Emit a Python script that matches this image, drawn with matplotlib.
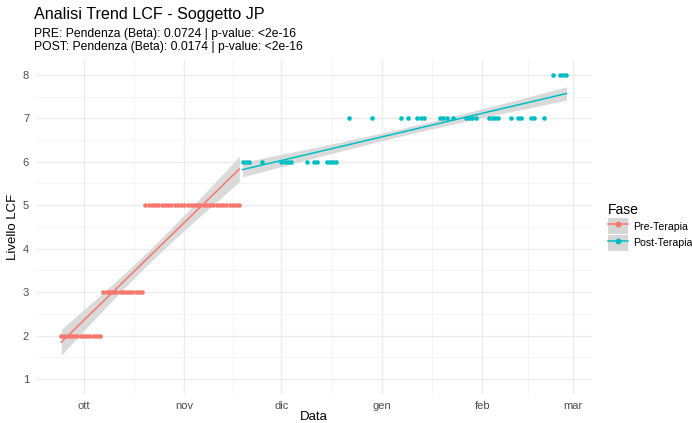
import numpy as np
import pandas as pd
import matplotlib.pyplot as plt
import matplotlib.dates as mdates
from matplotlib.patches import Patch
from matplotlib.lines import Line2D
from matplotlib.legend_handler import HandlerTuple

plt.rcParams["font.family"] = ["Liberation Sans", "DejaVu Sans"]

# pre-terapia: one observation per day, constant level over each run
pre_run_start = ["2024-09-24", "2024-10-07", "2024-10-20"]
pre_run_end = ["2024-10-06", "2024-10-19", "2024-11-18"]
pre_run_level = [2, 3, 5]

# post-terapia: sparse observations
post_dates = [
    "2024-11-19", "2024-11-20", "2024-11-21", "2024-11-25",
    "2024-12-01", "2024-12-02", "2024-12-03", "2024-12-04", "2024-12-09",
    "2024-12-11", "2024-12-12", "2024-12-15", "2024-12-16", "2024-12-17",
    "2024-12-18",
    "2024-12-22", "2024-12-29", "2025-01-07", "2025-01-09", "2025-01-12",
    "2025-01-13", "2025-01-14", "2025-01-19", "2025-01-20", "2025-01-21",
    "2025-01-23", "2025-01-27", "2025-01-28", "2025-01-29", "2025-01-30",
    "2025-02-03", "2025-02-04", "2025-02-05", "2025-02-06", "2025-02-10",
    "2025-02-12", "2025-02-13", "2025-02-16", "2025-02-17", "2025-02-20",
    "2025-02-23", "2025-02-25", "2025-02-26", "2025-02-27",
]
post_levels = [6] * 15 + [7] * 25 + [8] * 4

month_ticks = ["2024-10-01", "2024-11-01", "2024-12-01", "2025-01-01", "2025-02-01", "2025-03-01"]
month_labels = ["ott", "nov", "dic", "gen", "feb", "mar"]

pre_x, pre_y = [], []
for s, e, lv in zip(pre_run_start, pre_run_end, pre_run_level):
    days = pd.date_range(s, e, freq="D")
    pre_x.extend(days)
    pre_y.extend([lv] * len(days))
pre_x = mdates.date2num(pd.to_datetime(pre_x))
pre_y = np.array(pre_y, dtype=float)
post_x = mdates.date2num(pd.to_datetime(post_dates))
post_y = np.array(post_levels, dtype=float)

COL_PRE = "#F8766D"
COL_POST = "#00BFC4"
RIBBON = "#D6D6D6"


def lm_band(x, y, n=80, t=2.01):
    b, a = np.polyfit(x, y, 1)
    resid = y - (a + b * x)
    s = np.sqrt(np.sum(resid ** 2) / (len(x) - 2))
    xs = np.linspace(x.min(), x.max(), n)
    se = s * np.sqrt(1 / len(x) + (xs - x.mean()) ** 2 / np.sum((x - x.mean()) ** 2))
    fit = a + b * xs
    return xs, fit, fit - t * se, fit + t * se


fig = plt.figure(figsize=(6.92, 4.23), dpi=100)
ax = fig.add_axes([0.052, 0.068, 0.803, 0.791])

for x, y, c in [(pre_x, pre_y, COL_PRE), (post_x, post_y, COL_POST)]:
    ax.scatter(x, y, s=11, color=c, zorder=3, linewidths=0)
    xs, fit, lo, hi = lm_band(x, y)
    ax.fill_between(xs, lo, hi, color=RIBBON, alpha=0.9, linewidth=0, zorder=2)
    ax.plot(xs, fit, color=c, lw=1.1, zorder=4)

# ggplot-like limits: 5% expansion on x, y limits 1..8
allx = np.concatenate([pre_x, post_x])
span = allx.max() - allx.min()
ax.set_xlim(allx.min() - 0.05 * span, allx.max() + 0.05 * span)
ax.set_ylim(1 - 0.35, 8 + 0.35)

major = mdates.date2num(pd.to_datetime(month_ticks))
ax.set_xticks(major)
ax.set_xticklabels(month_labels)
ax.set_xticks((major[:-1] + major[1:]) / 2, minor=True)
ax.set_yticks(range(1, 9))
ax.set_yticks(np.arange(1.5, 8, 1), minor=True)

ax.grid(True, which="major", color="#EBEBEB", lw=0.9, zorder=0)
ax.grid(True, which="minor", color="#F3F3F3", lw=0.6, zorder=0)
ax.set_axisbelow(True)
for sp in ax.spines.values():
    sp.set_visible(False)
ax.tick_params(which="both", length=0, labelsize=8, labelcolor="#4D4D4D", pad=5)

ax.set_xlabel("Data", fontsize=9.5, labelpad=0)
ax.set_ylabel("Livello LCF", fontsize=9.5, labelpad=3)

fig.text(0.049, 0.955, "Analisi Trend LCF - Soggetto JP", fontsize=11.6, va="baseline")
fig.text(0.049, 0.882, "PRE: Pendenza (Beta): 0.0724 | p-value: <2e-16\n"
         "POST: Pendenza (Beta): 0.0174 | p-value: <2e-16",
         fontsize=8.7, va="baseline", linespacing=1.12)

handles = [
    (Patch(facecolor=RIBBON, edgecolor="none"),
     Line2D([], [], color=COL_PRE, marker="o", markersize=3.2, lw=1.1)),
    (Patch(facecolor=RIBBON, edgecolor="none"),
     Line2D([], [], color=COL_POST, marker="o", markersize=3.2, lw=1.1)),
]
leg = ax.legend(handles, ["Pre-Terapia", "Post-Terapia"], title="Fase",
                handler_map={tuple: HandlerTuple(ndivide=1, pad=0)},
                loc="center left", bbox_to_anchor=(1.016, 0.5), frameon=False,
                fontsize=7.6, title_fontsize=10, handlelength=1.9, handleheight=1.9,
                handletextpad=0.45, labelspacing=0.1, alignment="left",
                borderpad=0.2)

fig.savefig("out.png", dpi=100)
